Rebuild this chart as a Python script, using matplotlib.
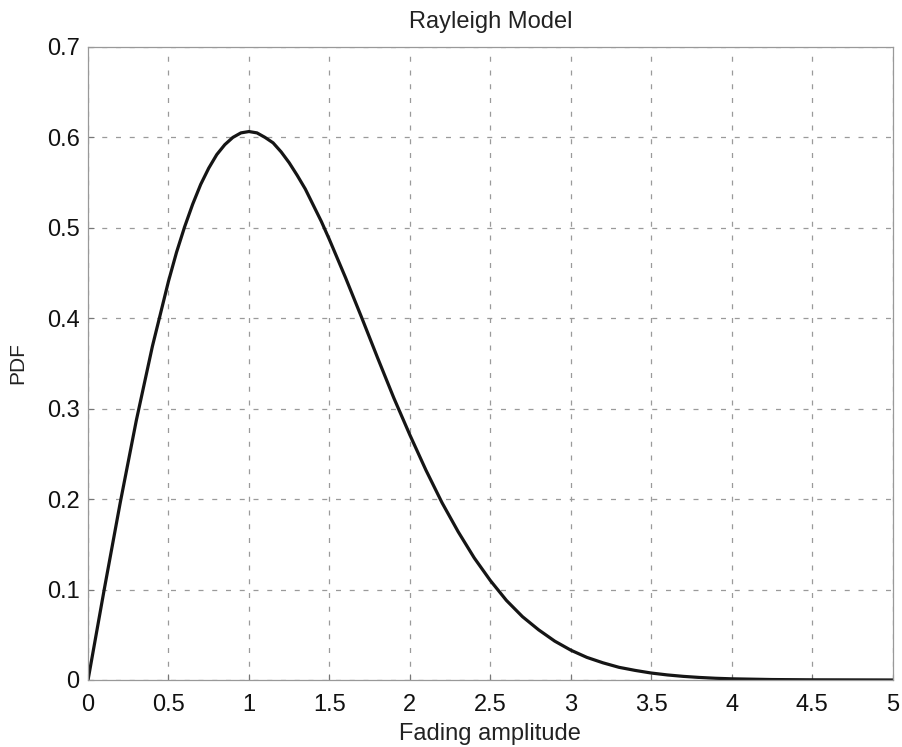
import numpy as np
import matplotlib
matplotlib.use('Agg')
import matplotlib.pyplot as plt

# values
amplitude = [0.0, 0.1, 0.2, 0.3, 0.4, 0.5, 0.55, 0.6, 0.65, 0.7, 0.75, 0.8, 0.85, 0.9, 0.95,
             1.0, 1.05, 1.1, 1.15, 1.2, 1.25, 1.3, 1.35, 1.4, 1.45, 1.5, 1.6, 1.7, 1.8, 1.9,
             2.0, 2.1, 2.2, 2.3, 2.4, 2.5, 2.6, 2.7, 2.8, 2.9,
             3.0, 3.1, 3.2, 3.3, 3.4, 3.5, 3.6, 3.7, 3.8, 3.9,
             4.0, 4.25, 4.5, 4.75, 5.0]
pdf = [0.0, 0.0995, 0.196, 0.287, 0.369, 0.441, 0.473, 0.501, 0.526, 0.548, 0.566, 0.581, 0.592, 0.600, 0.605,
       0.6065, 0.605, 0.600, 0.594, 0.584, 0.572, 0.558, 0.543, 0.525, 0.507, 0.487, 0.445, 0.401, 0.356, 0.312,
       0.271, 0.232, 0.196, 0.164, 0.135, 0.110, 0.088, 0.070, 0.0555, 0.043,
       0.033, 0.025, 0.019, 0.014, 0.0106, 0.0077, 0.0056, 0.004, 0.0028, 0.0019,
       0.0013, 0.0005, 0.0002, 0.0001, 0.0]

xticks = [0, 0.5, 1, 1.5, 2, 2.5, 3, 3.5, 4, 4.5, 5]
xtick_labels = ['0', '0.5', '1', '1.5', '2', '2.5', '3', '3.5', '4', '4.5', '5']
yticks = [0, 0.1, 0.2, 0.3, 0.4, 0.5, 0.6, 0.7]
ytick_labels = ['0', '0.1', '0.2', '0.3', '0.4', '0.5', '0.6', '0.7']

plt.rcParams['font.family'] = ['Liberation Sans', 'DejaVu Sans']

fig = plt.figure(figsize=(9.02, 7.47), dpi=100)
ax = fig.add_axes([0.0976, 0.0897, 0.892, 0.8474])

ax.plot(amplitude, pdf, color='#151515', linewidth=2.3)

ax.set_xlim(0, 5)
ax.set_ylim(0, 0.7)
ax.set_xticks(xticks)
ax.set_xticklabels(xtick_labels)
ax.set_yticks(yticks)
ax.set_yticklabels(ytick_labels)
ax.tick_params(direction='in', length=4, width=0.8, color='#777777',
               labelsize=17, labelcolor='#111111')
ax.tick_params(axis='x', pad=10)
ax.tick_params(axis='y', pad=6)
ax.grid(True, linestyle=(0, (4, 7)), color='#9a9a9a', linewidth=0.9)
for s in ax.spines.values():
    s.set_color('#999999')
    s.set_linewidth(0.9)

ax.set_title('Rayleigh Model', fontsize=17, color='#222222', pad=14)
ax.set_xlabel('Fading amplitude', fontsize=17, color='#222222', labelpad=5)
ax.set_ylabel('PDF', fontsize=15, color='#222222', labelpad=14)

fig.savefig('out.png', dpi=100)
